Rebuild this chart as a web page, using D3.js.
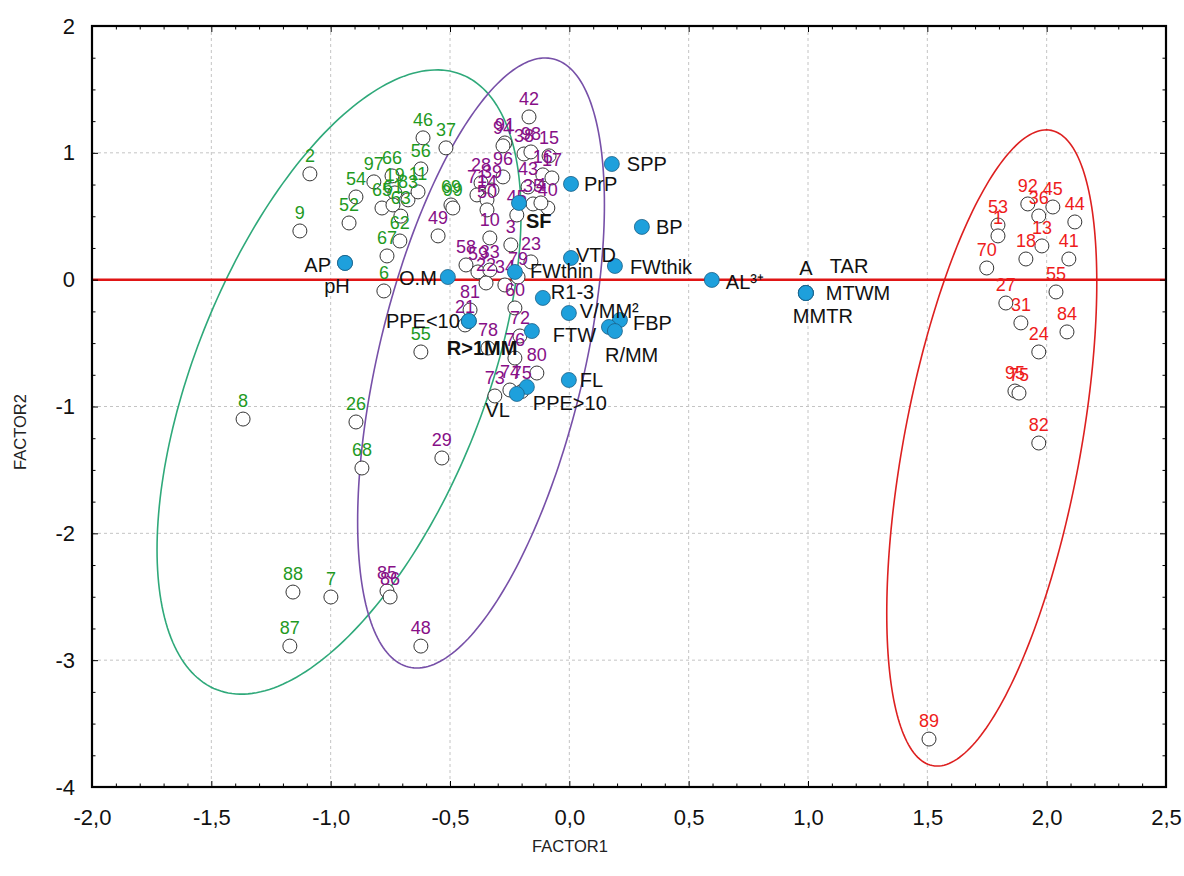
<!DOCTYPE html>
<html><head><meta charset="utf-8">
<script src="https://cdn.jsdelivr.net/npm/d3@7"></script>
<style>
html,body{margin:0;padding:0;background:#fff;}
text{font-family:"Liberation Sans",Arial,sans-serif;}
</style></head>
<body><svg id="chart" width="1184" height="876"></svg>
<script>
// ---------- DATA ----------
const xTickValues = [-2.0,-1.5,-1.0,-0.5,0.0,0.5,1.0,1.5,2.0,2.5];
const yTickValues = [-4,-3,-2,-1,0,1,2];
const xTitle = "FACTOR1", yTitle = "FACTOR2";

const greenLabels = ["2","9","54","52","97","66","19","83","11","65","61","63","62","67","56","46","37","69","99","6","55","8","26","68","88","7","87"];
const greenX = [-1.087,-1.129,-0.894,-0.923,-0.819,-0.743,-0.731,-0.676,-0.634,-0.785,-0.739,-0.706,-0.710,-0.764,-0.622,-0.613,-0.517,-0.496,-0.488,-0.777,-0.622,-1.367,-0.894,-0.869,-1.158,-0.999,-1.171];
const greenY = [0.834,0.384,0.652,0.447,0.771,0.818,0.684,0.629,0.692,0.565,0.589,0.501,0.305,0.187,0.873,1.118,1.039,0.589,0.565,-0.089,-0.570,-1.099,-1.122,-1.485,-2.463,-2.502,-2.889];

const purpleLabels = ["42","91","94","38","98","15","16","17","96","28","39","71","14","43","35","40","4","45","50","10","3","23","58","59","33","79","22","34","60","81","21","78","72","76","80","73","74","75","29","85","86","48","49"];
const purpleX = [-0.169,-0.270,-0.278,-0.190,-0.161,-0.085,-0.111,-0.073,-0.278,-0.370,-0.324,-0.387,-0.345,-0.173,-0.152,-0.090,-0.119,-0.220,-0.345,-0.333,-0.245,-0.161,-0.433,-0.383,-0.333,-0.215,-0.349,-0.270,-0.228,-0.416,-0.437,-0.341,-0.207,-0.228,-0.136,-0.312,-0.249,-0.199,-0.534,-0.764,-0.751,-0.622,-0.550];
const purpleY = [1.283,1.078,1.055,0.991,1.007,0.976,0.826,0.802,0.810,0.763,0.707,0.668,0.629,0.731,0.597,0.565,0.605,0.510,0.550,0.329,0.274,0.140,0.116,0.061,0.076,0.021,-0.026,-0.042,-0.223,-0.239,-0.357,-0.539,-0.444,-0.618,-0.736,-0.917,-0.870,-0.881,-1.406,-2.455,-2.502,-2.889,0.345];

const redLabels = ["92","45","36","44","53","1","13","41","18","70","55","27","31","84","24","95","75","82","89"];
const redX = [1.921,2.026,1.967,2.118,1.796,1.796,1.980,2.093,1.913,1.749,2.039,1.829,1.892,2.085,1.967,1.867,1.884,1.967,1.507];
const redY = [0.597,0.573,0.502,0.455,0.431,0.345,0.266,0.163,0.163,0.092,-0.097,-0.184,-0.341,-0.412,-0.570,-0.878,-0.894,-1.288,-3.622];

const varNames = ["SPP","PrP","BP","SF","VTD","FWthik","FWthin","AL³⁺","O.M","AP","pH","A","TAR","MTWM","MMTR","R1-3","V/MM²","PPE<10","R>1MM","FTW","FBP","R/MM","","FL","PPE>10","VL"];
const varX = [0.178,0.007,0.304,-0.211,0.007,0.191,-0.228,0.597,-0.509,-0.940,-0.940,0.991,0.991,0.991,0.991,-0.111,-0.002,-0.421,-0.421,-0.157,0.212,0.166,0.191,-0.002,-0.178,-0.220];
const varY = [0.912,0.755,0.416,0.605,0.171,0.108,0.061,-0.002,0.021,0.132,0.132,-0.105,-0.105,-0.105,-0.105,-0.144,-0.263,-0.326,-0.326,-0.405,-0.318,-0.373,-0.405,-0.791,-0.846,-0.901];

// confidence ellipses (centre, spread, correlation) in data units
const ellipseGroups = ["green","purple","red"];
const ellipseCX = [-0.965,-0.370,1.770];
const ellipseCY = [-0.807,-0.657,-1.327];
const ellipseSX = [0.7625,0.517,0.440];
const ellipseSY = [2.461,2.405,2.508];
const ellipseRho = [0.537,0.52,0.52];

// ---------- STYLE / LAYOUT ----------
const groupText = {green:"#1f9a1f", purple:"#870f87", red:"#ee1c1c"};
const groupEllipse = {green:"#2fa97a", purple:"#7750a8", red:"#dd2020"};
// label placement for variables: [dx, dy(baseline), anchor, bold]
const varPlace = {
 "SPP":[15,7,"start"],"PrP":[13,7,"start"],"BP":[14,7,"start"],"SF":[7,25,"start",true],
 "VTD":[5,4,"start"],"FWthik":[15,8,"start"],"FWthin":[15,6,"start"],"AL³⁺":[14,9,"start"],
 "O.M":[-11,8,"end"],"AP":[-14,9,"end"],"pH":[-8,30,"middle"],"A":[0,-18,"middle"],
 "TAR":[24,-20,"start"],"MTWM":[20,7,"start"],"MMTR":[-13,30,"start"],"R1-3":[8,1,"start"],
 "V/MM²":[11,5,"start"],"PPE<10":[-9,7,"end"],"R>1MM":[-22,34,"start",true],"FTW":[21,11,"start"],
 "FBP":[13,10,"start"],"R/MM":[-4,35,"start"],"":[0,0,"start"],"FL":[11,7,"start"],
 "PPE>10":[6,23,"start"],"VL":[-7,23,"end"]
};

const svg = d3.select("#chart");
const L=92, R=1166, T=26, B=787;
const x = d3.scaleLinear().domain([-2,2.5]).range([L,R]);
const y = d3.scaleLinear().domain([-4,2]).range([B,T]);

// grid
const g = svg.append("g");
g.selectAll("line.gx").data(xTickValues.slice(1,-1)).enter().append("line")
 .attr("x1",d=>x(d)).attr("x2",d=>x(d)).attr("y1",T).attr("y2",B)
 .attr("stroke","#c4c4c4").attr("stroke-dasharray","3,3").attr("stroke-width",1);
g.selectAll("line.gy").data(yTickValues.slice(1,-1)).enter().append("line")
 .attr("y1",d=>y(d)).attr("y2",d=>y(d)).attr("x1",L).attr("x2",R)
 .attr("stroke","#c4c4c4").attr("stroke-dasharray","3,3").attr("stroke-width",1);

// ellipses
const line = d3.line().x(d=>x(d[0])).y(d=>y(d[1])).curve(d3.curveLinearClosed);
ellipseGroups.forEach((grp,i)=>{
  const pts = d3.range(0,240).map(k=>{
    const t = k/240*2*Math.PI;
    return [ellipseCX[i] + ellipseSX[i]*Math.cos(t),
            ellipseCY[i] + ellipseSY[i]*(ellipseRho[i]*Math.cos(t) + Math.sqrt(1-ellipseRho[i]**2)*Math.sin(t))];
  });
  svg.append("path").attr("d",line(pts)).attr("fill","none")
   .attr("stroke",groupEllipse[grp]).attr("stroke-width",1.6);
});

// zero line
svg.append("line").attr("x1",L).attr("x2",R).attr("y1",y(0)).attr("y2",y(0))
 .attr("stroke","#e01515").attr("stroke-width",2.5);

// observations
const groups = [
  {name:"green", labels:greenLabels, xs:greenX, ys:greenY},
  {name:"purple", labels:purpleLabels, xs:purpleX, ys:purpleY},
  {name:"red", labels:redLabels, xs:redX, ys:redY}
];
groups.forEach(G=>{
  svg.append("g").selectAll("circle").data(G.labels.map((l,i)=>i)).enter().append("circle")
   .attr("cx",i=>x(G.xs[i])).attr("cy",i=>y(G.ys[i])).attr("r",7)
   .attr("fill","#fff").attr("stroke","#333").attr("stroke-width",1);
});
groups.forEach(G=>{
  svg.append("g").selectAll("text").data(G.labels.map((l,i)=>i)).enter().append("text")
   .attr("x",i=>x(G.xs[i])).attr("y",i=>y(G.ys[i])-12)
   .attr("text-anchor","middle").attr("font-size",18).attr("fill",groupText[G.name])
   .text(i=>G.labels[i]);
});

// variables
svg.append("g").selectAll("circle").data(varNames.map((n,i)=>i)).enter().append("circle")
 .attr("cx",i=>x(varX[i])).attr("cy",i=>y(varY[i])).attr("r",7.5)
 .attr("fill","#1ea0dc").attr("stroke","#1a5f86").attr("stroke-width",0.8);
svg.append("g").selectAll("text").data(varNames.map((n,i)=>i)).enter().append("text")
 .attr("x",i=>x(varX[i])+varPlace[varNames[i]][0])
 .attr("y",i=>y(varY[i])+varPlace[varNames[i]][1])
 .attr("text-anchor",i=>varPlace[varNames[i]][2])
 .attr("font-weight",i=>varPlace[varNames[i]][3]?"bold":"normal")
 .attr("font-size",20).attr("fill","#111")
 .text(i=>varNames[i]);

// axes (ticks inward)
const xMinor = d3.range(-20,26).map(v=>v/10).filter(v=>Math.abs(v*2-Math.round(v*2))>1e-6);
const yMinor = d3.range(-16,9).map(v=>v/4).filter(v=>Math.abs(v-Math.round(v))>1e-6);
function addAxis(axis, tr){ const a = svg.append("g").attr("transform",tr).call(axis); a.select(".domain").remove(); a.selectAll("line").attr("stroke","#000"); return a;}
addAxis(d3.axisBottom(x).tickValues(xMinor).tickSize(-3.5).tickFormat(""),`translate(0,${B})`);
addAxis(d3.axisTop(x).tickValues(xMinor).tickSize(-3.5).tickFormat(""),`translate(0,${T})`);
addAxis(d3.axisLeft(y).tickValues(yMinor).tickSize(-3.5).tickFormat(""),`translate(${L},0)`);
addAxis(d3.axisRight(y).tickValues(yMinor).tickSize(-3.5).tickFormat(""),`translate(${R},0)`);
addAxis(d3.axisTop(x).tickValues(xTickValues).tickSize(-6).tickFormat(""),`translate(0,${T})`);
addAxis(d3.axisRight(y).tickValues(yTickValues).tickSize(-6).tickFormat(""),`translate(${R},0)`);
const xa = addAxis(d3.axisBottom(x).tickValues(xTickValues).tickSize(-6).tickPadding(22)
  .tickFormat(d=>d.toFixed(1).replace(".",",").replace("\u2212","-")),`translate(0,${B})`);
xa.selectAll("text").attr("font-size",22).attr("fill","#111").style("font-family","'Liberation Sans',Arial,sans-serif");
const ya = addAxis(d3.axisLeft(y).tickValues(yTickValues).tickSize(-6).tickPadding(17)
  .tickFormat(d=>String(d)),`translate(${L},0)`);
ya.selectAll("text").attr("font-size",22).attr("fill","#111").style("font-family","'Liberation Sans',Arial,sans-serif");

// frame
svg.append("rect").attr("x",L).attr("y",T).attr("width",R-L).attr("height",B-T)
 .attr("fill","none").attr("stroke","#000").attr("stroke-width",2.2);

// titles
svg.append("text").attr("x",570).attr("y",852).attr("text-anchor","middle")
 .attr("font-size",16.5).attr("fill","#222").text(xTitle);
svg.append("text").attr("transform","translate(26,432) rotate(-90)").attr("text-anchor","middle")
 .attr("font-size",16.5).attr("fill","#222").text(yTitle);
</script></body></html>
